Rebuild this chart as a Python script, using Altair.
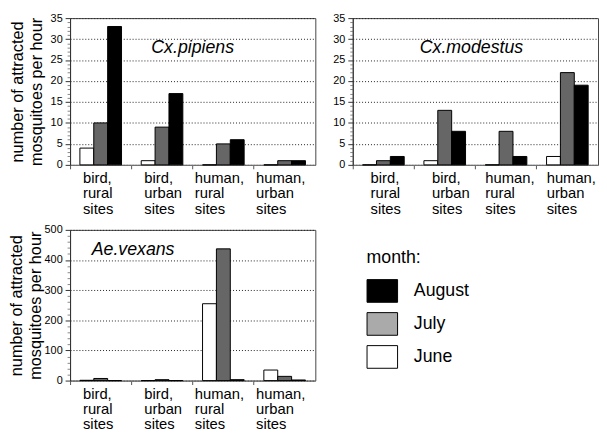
import altair as alt
import pandas as pd

sites = ["bird, rural sites", "bird, urban sites", "human, rural sites", "human, urban sites"]
months = ["June", "July", "August"]

pipiens_june = [4, 1, 0, 0]
pipiens_july = [10, 9, 5, 1]
pipiens_august = [33, 17, 6, 1]

modestus_june = [0, 1, 0, 2]
modestus_july = [1, 13, 8, 22]
modestus_august = [2, 8, 2, 19]

vexans_june = [1, 0, 255, 35]
vexans_july = [7, 3, 437, 14]
vexans_august = [0, 0, 3, 2]

bar_colors = ["#ffffff", "#666666", "#000000"]
legend_months = ["August", "July", "June"]
legend_colors = ["#000000", "#aaaaaa", "#ffffff"]

FONT = "Liberation Sans"
Y_TITLE = ["number of attracted", "mosquitoes per hour"]
PANEL_W = 249
BORDER = "#444"


def table(june, july, august):
    rows = []
    for i, s in enumerate(sites):
        for m, vals in zip(months, (june, july, august)):
            rows.append({"site": s, "month": m, "value": vals[i]})
    return pd.DataFrame(rows)


def panel(df, name, ymax, major, minor, height, bird_off, human_off, ytitle,
          talign, tx, ty, title_pad):
    is_major = f"datum.value % {major} === 0"
    yaxis_kw = dict(
        values=list(range(0, ymax + 1, minor)),
        labelExpr=f"{is_major} ? datum.label : ''",
        labelOverlap=False,
        labelFontSize=11,
        labelColor="#000",
        labelPadding=3,
        tickSize={"condition": {"test": is_major, "value": 5}, "value": 3},
        tickColor={"condition": {"test": is_major, "value": "#333"}, "value": "#888"},
        grid=True,
        gridOpacity={"condition": {"test": is_major, "value": 1}, "value": 0},
        gridDash=[1, 2],
        gridColor="#222",
        gridWidth=1,
        domainColor="#333",
        titleFontSize=16.5,
        titleFontWeight="normal",
        titleColor="#000",
        titleLineHeight=19,
        titlePadding=title_pad,
    )
    if ytitle:
        yaxis = alt.Axis(title=Y_TITLE, **yaxis_kw)
    else:
        yaxis = alt.Axis(title=None, **yaxis_kw)

    xaxis = alt.Axis(
        title=None,
        bandPosition=0,
        labelAngle=0,
        labelAlign="left",
        labelBaseline="top",
        labelExpr="split(datum.label, ' ')",
        labelOffset={"condition": {"test": "indexof(datum.value, 'bird') === 0",
                                   "value": bird_off}, "value": human_off},
        labelFontSize=15,
        labelLineHeight=15.5,
        labelPadding=2,
        labelColor="#000",
        tickSize=4,
        tickColor="#555",
        domainColor="#777",
        labelOverlap=False,
    )

    bars = alt.Chart(df).mark_bar(stroke="#000", strokeWidth=1).encode(
        x=alt.X("site:N", sort=sites,
                scale=alt.Scale(paddingInner=0, paddingOuter=0), axis=xaxis),
        xOffset=alt.XOffset("month:N", sort=months,
                            scale=alt.Scale(paddingOuter=0.71, paddingInner=0)),
        y=alt.Y("value:Q", scale=alt.Scale(domain=[0, ymax], nice=False), axis=yaxis),
        fill=alt.Fill("month:N", scale=alt.Scale(domain=months, range=bar_colors),
                      legend=None),
    )
    label = alt.Chart(pd.DataFrame({"species": [name]})).mark_text(
        font=FONT, fontSize=18, fontStyle="italic", color="#000",
        align=talign, baseline="alphabetic",
    ).encode(
        text="species:N",
        x=alt.value(tx),
        y=alt.value(ty),
    )
    return alt.layer(bars, label).properties(
        width=PANEL_W, height=height,
        view=alt.ViewBackground(stroke=BORDER, strokeWidth=1),
    )


p1 = panel(table(pipiens_june, pipiens_july, pipiens_august), "Cx.pipiens",
           35, 5, 1, 149, -18, -29, True, "center", PANEL_W / 2, 35, 6)
p2 = panel(table(modestus_june, modestus_july, modestus_august), "Cx.modestus",
           35, 5, 1, 149, -13, -21, False, "center", PANEL_W / 2 - 4, 35, 6)
p3 = panel(table(vexans_june, vexans_july, vexans_august), "Ae.vexans",
           500, 100, 20, 153, -18, -29, True, "left", 22, 26, 1)

legend_df = pd.DataFrame({"month": legend_months})
legend_cell = alt.Chart(legend_df).mark_rect(opacity=0).encode(
    fill=alt.Fill(
        "month:N",
        sort=legend_months,
        scale=alt.Scale(domain=legend_months, range=legend_colors),
        legend=alt.Legend(
            title="month:",
            orient="none",
            legendX=30,
            legendY=20,
            titleFontSize=18,
            titleFontWeight="normal",
            titleColor="#000",
            titleFont=FONT,
            titlePadding=8,
            labelFontSize=18,
            labelFont=FONT,
            labelColor="#000",
            labelOffset=16,
            symbolType="M-1,-0.742L1,-0.742L1,0.742L-1,0.742Z",
            symbolSize=961,
            symbolStrokeColor="#000",
            symbolStrokeWidth=1,
            symbolOpacity=1,
            rowPadding=3.5,
        ),
    )
).properties(width=200, height=153, view=alt.ViewBackground(stroke="transparent"))

top = alt.hconcat(p1, p2, spacing=16)
bottom = alt.hconcat(p3, legend_cell, spacing=20).resolve_scale(fill="independent")

chart = alt.vconcat(top, bottom, spacing=6).resolve_scale(
    fill="independent"
).properties(
    padding={"left": 0, "top": 0, "right": 0, "bottom": 0}
).configure(
    font=FONT,
).configure_view(
    stroke=BORDER,
    strokeWidth=1,
)

chart.save("out.html", embed_options={"renderer": "svg", "actions": False})
